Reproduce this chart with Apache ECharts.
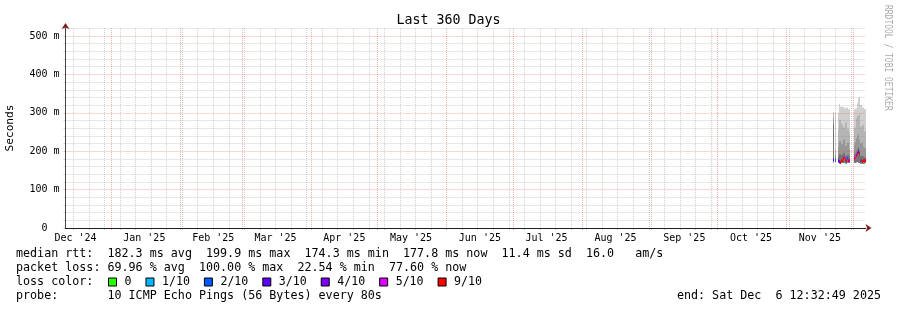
<!DOCTYPE html>
<html><head><meta charset="utf-8">
<script src="https://cdn.jsdelivr.net/npm/echarts@6/dist/echarts.min.js"></script>
<style>html,body{margin:0;padding:0;background:#fff}#c{width:897px;height:310px}</style>
</head><body><div id="c"></div>
<script>
const FONT = '"DejaVu Sans Mono", monospace';
const chartTitle = 'Last 360 Days';
const startTime = '2024-12-11T12:32:49Z';
const endTime = '2025-12-06T12:32:49Z';
const firstSunday = '2024-12-15T00:00:00Z';
const yMax = 520.8;
const yTicks = [0, 100, 200, 300, 400, 500];
const yTickLabels = ['0  ', '100 m', '200 m', '300 m', '400 m', '500 m'];
const monthStarts = ['2025-01-01','2025-02-01','2025-03-01','2025-04-01','2025-05-01','2025-06-01',
  '2025-07-01','2025-08-01','2025-09-01','2025-10-01','2025-11-01','2025-12-01'];
const monthLabelDates = ['2024-12-16','2025-01-16','2025-02-16','2025-03-16','2025-04-16','2025-05-16',
  '2025-06-16','2025-07-16','2025-08-16','2025-09-16','2025-10-16','2025-11-16'];
const monthLabels = ["Dec '24","Jan '25","Feb '25","Mar '25","Apr '25","May '25",
  "Jun '25","Jul '25","Aug '25","Sep '25","Oct '25","Nov '25"];

// samples (one per ~10.8 h), null = no data
const sampleStart = '2025-11-21T21:32:49Z';
const sampleStepHours = 10.8;
const smokeMin = [171,null,172,null,null,
  169,168,168,169,169,170,170,168,168,170,170,169,
  null,null,null,null,
  170,170,171,172,170,169,168,168,168,167,168,169];
const smokeMax = [302,null,301,null,null,
  300,323,316,316,316,316,312,312,314,314,309,309,
  null,null,null,null,
  308,312,312,325,338,342,320,320,314,314,310,310];
const smokeHi2 = [296,null,205,null,null,
  255,282,282,270,270,262,262,275,275,258,258,248,
  null,null,null,null,
  262,262,285,292,292,296,264,264,268,268,252,252];
const smokeHi3 = [285,null,190,null,null,
  212,226,226,218,218,230,230,214,214,222,222,205,
  null,null,null,null,
  216,224,234,240,244,230,220,220,224,212,208,208];
const smokeHi4 = [270,null,182,null,null,
  186,192,192,190,190,196,196,188,188,190,190,184,
  null,null,null,null,
  192,196,200,206,210,202,188,188,188,186,184,184];
const medianRtt = [180,null,178,null,null,
  176,175,173,177,176,182,184,180,176,183,178,176,
  null,null,null,null,
  182,186,190,196,200,194,178,176,175,177,176,178];
const lossCount = [3,null,2,null,null,
  3,4,9,9,9,9,5,9,9,2,9,4,
  null,null,null,null,
  9,5,9,4,3,9,2,9,9,9,9,9];

const lossNames = ['0','1/10','2/10','3/10','4/10','5/10','9/10'];
const lossColors = ['#26ff00','#00b8ff','#0059ff','#5e00ff','#7e00ff','#dd00ff','#ff0000'];
const smokeColors = ['#d0d0d0','#b5b5b5','#979797','#737373'];

const statsLine1 = 'median rtt:  182.3 ms avg  199.9 ms max  174.3 ms min  177.8 ms now  11.4 ms sd  16.0   am/s';
const statsLine2 = 'packet loss: 69.96 % avg  100.00 % max  22.54 % min  77.60 % now';
const lossLabel = 'loss color:';
const probeLine = 'probe:       10 ICMP Echo Pings (56 Bytes) every 80s';
const endLine = 'end: Sat Dec  6 12:32:49 2025';
const watermark = 'RRDTOOL / TOBI OETIKER';

const DAY = 86400000;
const startMs = Date.parse(startTime), endMs = Date.parse(endTime);
const stepMs = sampleStepHours * 3600000;
const t0 = Date.parse(sampleStart);
const monthStartMs = monthStarts.map(d => Date.parse(d + 'T00:00:00Z'));
const labelMs = monthLabelDates.map(d => Date.parse(d + 'T00:00:00Z'));
const weekMs = [];
for (let t = Date.parse(firstSunday); t < endMs; t += 7 * DAY) if (monthStartMs.indexOf(t) < 0) weekMs.push(t);
const minorY = [];
for (let v = 0; v <= yMax; v += 20) if (v % 100 !== 0) minorY.push(v);

function bucketOf(l) { return l >= 9 ? 6 : (l >= 5 ? 5 : l); }

function bandData(hiArr) {
  const out = [];
  smokeMin.forEach((lo, i) => {
    const hi = hiArr[i];
    if (lo == null || hi == null) return;
    out.push([t0 + i * stepMs, lo, hi]);
  });
  return out;
}
function rectItem(params, api) {
  const t = api.value(0), lo = api.value(1), hi = api.value(2);
  const p1 = api.coord([t - stepMs / 2, hi]);
  const p2 = api.coord([t + stepMs / 2, lo]);
  const x = Math.round(p1[0]), x2 = Math.round(p2[0]);
  return { type: 'rect', shape: { x: x, y: p1[1], width: Math.max(1, x2 - x), height: p2[1] - p1[1] },
    style: { fill: api.visual('color') } };
}
function medItem(params, api) {
  const t = api.value(0), v = api.value(1);
  const p1 = api.coord([t - stepMs / 2, v]);
  const p2 = api.coord([t + stepMs / 2, v]);
  const x = Math.round(p1[0]), x2 = Math.round(p2[0]);
  return { type: 'rect', shape: { x: x, y: Math.round(p1[1]) - 1, width: Math.max(1, x2 - x), height: 3 },
    style: { fill: api.visual('color') } };
}

const series = [];
[smokeMax, smokeHi2, smokeHi3, smokeHi4].forEach((arr, k) => {
  series.push({ type: 'custom', name: 'smoke' + k, xAxisIndex: 3, yAxisIndex: 3, z: 2,
    itemStyle: { color: smokeColors[k] }, encode: { x: 0, y: [1, 2] },
    renderItem: rectItem, data: bandData(arr), silent: true });
});
lossNames.forEach((name, b) => {
  const data = [];
  medianRtt.forEach((v, i) => {
    if (v == null) return;
    if (bucketOf(lossCount[i]) === b) data.push([t0 + i * stepMs, v]);
  });
  series.push({ type: 'custom', name: name, xAxisIndex: 3, yAxisIndex: 3, z: 3,
    itemStyle: { color: lossColors[b] }, encode: { x: 0, y: 1 },
    renderItem: medItem, data: data, silent: true });
});

const gridGrey = 'rgba(143,143,143,0.4)';
const gridRed = 'rgba(222,79,79,0.45)';
const xBase = { type: 'value', min: startMs, max: endMs, position: 'bottom', offset: 0 };
const yBase = { type: 'value', min: 0, max: yMax, position: 'left', offset: 0 };

const option = {
  animation: false,
  backgroundColor: '#fff',
  title: { text: chartTitle, left: 'center', top: 13.5, padding: 0,
    textStyle: { fontFamily: FONT, fontSize: 13.3, fontWeight: 'normal', color: '#000', lineHeight: 14 } },
  grid: { left: 65.5, top: 28, width: 800, height: 200, containLabel: false, outerBoundsMode: 'none' },
  legend: { left: 108, top: 276, padding: 0, itemWidth: 8, itemHeight: 8, itemGap: 14, icon: 'rect',
    selectedMode: false, data: lossNames,
    itemStyle: { borderColor: '#000', borderWidth: 1 },
    textStyle: { fontFamily: FONT, fontSize: 11.6, color: '#000', padding: [0, 0, 0, 3] } },
  xAxis: [
    Object.assign({}, xBase, { z: 5, axisLine: { show: false }, axisLabel: { show: false },
      axisTick: { show: true, length: 2, customValues: weekMs, lineStyle: { color: gridGrey } },
      splitLine: { show: true, lineStyle: { color: gridGrey, width: 1, type: [1, 1] } } }),
    Object.assign({}, xBase, { z: 6, axisLine: { show: false }, axisLabel: { show: false },
      axisTick: { show: true, length: 2, customValues: monthStartMs, lineStyle: { color: gridRed } },
      splitLine: { show: true, lineStyle: { color: gridRed, width: 1, type: [1, 1] } } }),
    Object.assign({}, xBase, { z: 7, axisLabel: { show: false }, axisTick: { show: false }, splitLine: { show: false },
      axisLine: { show: true, onZero: false, lineStyle: { color: '#801f1f' },
        symbol: ['none', 'arrow'], symbolSize: [6, 6], symbolOffset: [0, 6] } }),
    Object.assign({}, xBase, { z: 8, axisTick: { show: false }, splitLine: { show: false },
      axisLine: { show: true, onZero: false, lineStyle: { color: '#1f1f1f' } },
      axisLabel: { show: true, customValues: labelMs, margin: 5, fontFamily: FONT, fontSize: 10, color: '#000',
        formatter: v => { let best = 0; labelMs.forEach((m, i) => { if (Math.abs(m - v) < Math.abs(labelMs[best] - v)) best = i; }); return monthLabels[best]; } } })
  ],
  yAxis: [
    Object.assign({}, yBase, { z: 5, axisLine: { show: false }, axisLabel: { show: false },
      axisTick: { show: true, length: 2, customValues: minorY, lineStyle: { color: gridGrey } },
      splitLine: { show: true, lineStyle: { color: gridGrey, width: 1, type: [1, 1] } } }),
    Object.assign({}, yBase, { z: 6, axisLine: { show: false }, axisLabel: { show: false },
      axisTick: { show: true, length: 2, customValues: yTicks, lineStyle: { color: gridRed } },
      splitLine: { show: true, lineStyle: { color: gridRed, width: 1, type: [1, 1] } } }),
    Object.assign({}, yBase, { z: 7, axisLabel: { show: false }, axisTick: { show: false }, splitLine: { show: false },
      axisLine: { show: true, onZero: false, lineStyle: { color: '#801f1f' },
        symbol: ['none', 'arrow'], symbolSize: [6, 6], symbolOffset: [0, 5] } }),
    Object.assign({}, yBase, { z: 8, axisTick: { show: false }, splitLine: { show: false },
      axisLine: { show: true, onZero: false, lineStyle: { color: '#444' } },
      name: 'Seconds', nameLocation: 'middle', nameGap: 50, nameRotate: 90,
      nameTextStyle: { fontFamily: FONT, fontSize: 11.2, color: '#000' },
      axisLabel: { show: true, customValues: yTicks, margin: 6, fontFamily: FONT, fontSize: 10, color: '#000',
        formatter: v => { const i = yTicks.indexOf(Math.round(v)); return i >= 0 ? yTickLabels[i] : ''; } } })
  ],
  graphic: [
    { type: 'text', x: 16, y: 254, style: { text: statsLine1, font: '11.7px ' + FONT, fill: '#000', verticalAlign: 'middle' } },
    { type: 'text', x: 16, y: 268, style: { text: statsLine2, font: '11.7px ' + FONT, fill: '#000', verticalAlign: 'middle' } },
    { type: 'text', x: 16, y: 282, style: { text: lossLabel, font: '11.7px ' + FONT, fill: '#000', verticalAlign: 'middle' } },
    { type: 'text', x: 16, y: 296, style: { text: probeLine, font: '11.7px ' + FONT, fill: '#000', verticalAlign: 'middle' } },
    { type: 'text', x: 881, y: 296, style: { text: endLine, font: '11.7px ' + FONT, fill: '#000', align: 'right', verticalAlign: 'middle' } },
    { type: 'text', x: 888, y: 5, rotation: -Math.PI / 2, scaleX: 0.76,
      style: { text: watermark, font: '10.5px ' + FONT, fill: '#ababab', align: 'left', verticalAlign: 'middle' } }
  ],
  series: series
};
echarts.init(document.getElementById('c'), null, { renderer: 'canvas' }).setOption(option);
</script></body></html>
